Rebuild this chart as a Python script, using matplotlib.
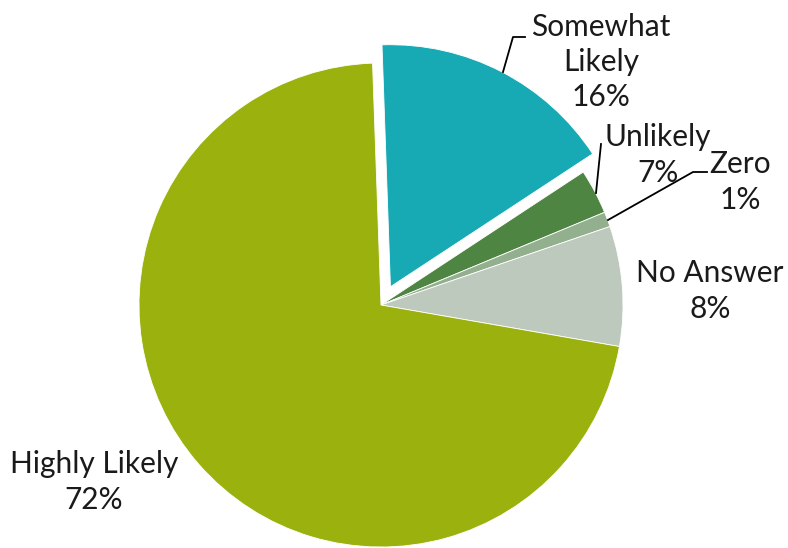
import matplotlib.pyplot as plt

# dane
kategorijos = ['Somewhat Likely', 'Unlikely', 'Zero', 'No Answer', 'Highly Likely']
dalys = [16.3, 3, 1, 8, 71.7]  # slice sizes as drawn
procentai = ['16%', '7%', '1%', '8%', '72%']  # labels as printed
spalvos = ['#17AAB4', '#4E8542', '#93B08E', '#BDC9BC', '#9BB20E']

W, H = 788, 548
cx, cy, R = 381, 305, 242


def px(x, y):
    # pixel -> data coords
    return (x - cx) / R, (cy - y) / R


plt.rcParams['font.family'] = ['Lato', 'DejaVu Sans']
fig = plt.figure(figsize=(W / 100, H / 100), dpi=100)
ax = fig.add_axes([0, 0, 1, 1])

ax.pie(dalys, colors=spalvos, startangle=92, counterclock=False,
       explode=[0.085, 0, 0, 0, 0], radius=1,
       wedgeprops=dict(edgecolor='white', linewidth=0.6))

ax.set_xlim(-cx / R, (W - cx) / R)
ax.set_ylim(-(H - cy) / R, cy / R)
ax.set_aspect('auto')
ax.axis('off')

# label text
tekstai = ['Somewhat\nLikely\n' + procentai[0],
           'Unlikely\n' + procentai[1],
           'Zero\n' + procentai[2],
           'No Answer\n' + procentai[3],
           'Highly Likely\n' + procentai[4]]
vietos = [(601, 62), (658, 155), (740, 182), (710, 291), (94, 482)]
for t, (x, y) in zip(tekstai, vietos):
    ax.text(*px(x, y), t, ha='center', va='center', fontsize=21.5,
            linespacing=1.32, color='#1a1a1a')

# leader lines
linijos = [
    [(525, 37), (513, 37), (503, 72)],
    [(601, 144), (596, 193)],
    [(707, 172), (693, 172), (608, 220)],
]
for lin in linijos:
    xs, ys = zip(*[px(a, b) for a, b in lin])
    ax.plot(xs, ys, color='black', lw=1.3)

plt.savefig('out.png', dpi=100)
